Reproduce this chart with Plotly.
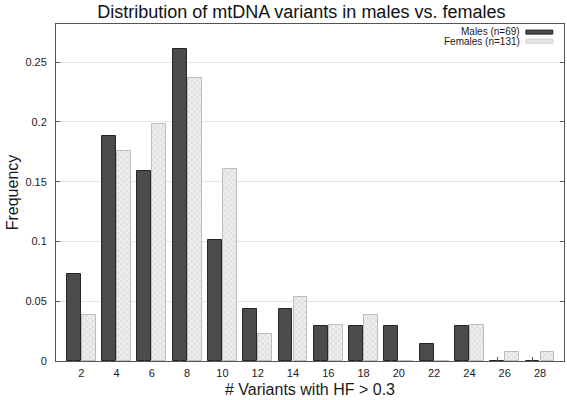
import plotly.graph_objects as go

variants = [2, 4, 6, 8, 10, 12, 14, 16, 18, 20, 22, 24, 26, 28]
males = [0.0725, 0.1884, 0.1594, 0.2609, 0.1014, 0.0435, 0.0435, 0.0290, 0.0290, 0.0290, 0.0145, 0.0290, 0.0, 0.0]
females = [0.0382, 0.1756, 0.1985, 0.2366, 0.1603, 0.0229, 0.0534, 0.0305, 0.0382, 0.0, 0.0, 0.0305, 0.0076, 0.0076]
y_ticks = [0, 0.05, 0.1, 0.15, 0.2, 0.25]
y_tick_labels = ["0", "0.05", "0.1", "0.15", "0.2", "0.25"]
legend_males = "Males (n=69)"
legend_females = "Females (n=131)"
x_title = "# Variants with HF > 0.3"
y_title = "Frequency"

FONT = "Liberation Sans, Arial, Helvetica, sans-serif"

fig = go.Figure()
fig.add_trace(go.Bar(
    x=variants, y=males, name=legend_males,
    offset=-0.82, width=0.79,
    marker=dict(color="#4b4b4b", line=dict(color="#262626", width=1)),
))
fig.add_trace(go.Bar(
    x=variants, y=females, name=legend_females,
    offset=0.03, width=0.79,
    marker=dict(color="#e6e6e6",
                line=dict(color="#bdbdbd", width=1),
                pattern=dict(shape="x", fgcolor="#b3b3b3", bgcolor="#ededed", size=4, solidity=0.25)),
))
# helper trace for the secondary axis that carries the gnuplot-style tick marks
fig.add_trace(go.Scatter(x=[variants[0]], y=[0], xaxis="x2", mode="markers",
                         marker=dict(opacity=0), showlegend=False, hoverinfo="skip"))

xr = [0.57, 29.36]
fig.update_layout(
    width=567, height=400,
    margin=dict(l=56, r=3, t=24, b=39, autoexpand=False),
    paper_bgcolor="white", plot_bgcolor="white",
    showlegend=False,
    font=dict(family=FONT, color="#1a1a1a"),
    title=dict(text="Distribution of mtDNA variants in males vs. females",
               xref="paper", x=0.483, xanchor="center",
               yref="container", y=0.97, yanchor="middle",
               font=dict(size=18, family=FONT, color="#111"),
               automargin=False),
    xaxis=dict(range=xr, tickvals=variants, ticktext=[str(v) for v in variants],
               ticks="", showgrid=False, zeroline=False, automargin=False,
               showline=True, linecolor="#555", linewidth=1, mirror=True,
               tickfont=dict(size=11), ticklabelstandoff=2),
    xaxis2=dict(range=xr, overlaying="x", side="bottom", anchor="y", automargin=False,
                tickvals=[v - 0.42 for v in variants], showticklabels=False,
                ticks="inside", ticklen=4, tickcolor="#555", showgrid=False,
                zeroline=False, showline=False),
    yaxis=dict(range=[0, 0.282], tickvals=y_ticks, ticktext=y_tick_labels,
               ticks="inside", ticklen=4, tickcolor="#555", automargin=False,
               showgrid=True, gridcolor="#e4e4e4", gridwidth=1, zeroline=False,
               showline=True, linecolor="#555", linewidth=1, mirror="ticks",
               tickfont=dict(size=11), ticklabelstandoff=6),
    bargap=0,
)

# axis titles
fig.add_annotation(xref="paper", yref="paper", x=0.5, y=-0.086, text=x_title,
                   showarrow=False, xanchor="center", yanchor="middle",
                   font=dict(size=16, family=FONT, color="#1a1a1a"))
fig.add_annotation(xref="paper", yref="paper", x=-0.085, y=0.5, text=y_title,
                   showarrow=False, xanchor="center", yanchor="middle", textangle=-90,
                   font=dict(size=16, family=FONT, color="#1a1a1a"))

# legend drawn gnuplot-style: right-aligned text with the sample box on its right
fig.add_annotation(xref="paper", yref="paper", x=0.917, y=0.977, text=legend_males,
                   showarrow=False, xanchor="right", yanchor="middle",
                   font=dict(size=10, family=FONT, color="#1a1a1a"))
fig.add_annotation(xref="paper", yref="paper", x=0.917, y=0.948, text=legend_females,
                   showarrow=False, xanchor="right", yanchor="middle",
                   font=dict(size=10, family=FONT, color="#1a1a1a"))
fig.add_shape(type="rect", xref="paper", yref="paper", x0=0.925, x1=0.978, y0=0.97, y1=0.982,
              fillcolor="#4b4b4b", line=dict(color="#262626", width=1))
fig.add_shape(type="rect", xref="paper", yref="paper", x0=0.925, x1=0.978, y0=0.943, y1=0.955,
              fillcolor="#e6e6e6", line=dict(color="#d0d0d0", width=1))

fig.write_html("out.html", config={"displayModeBar": False},
               post_script="document.body.style.margin='0';document.body.style.overflow='hidden';")
